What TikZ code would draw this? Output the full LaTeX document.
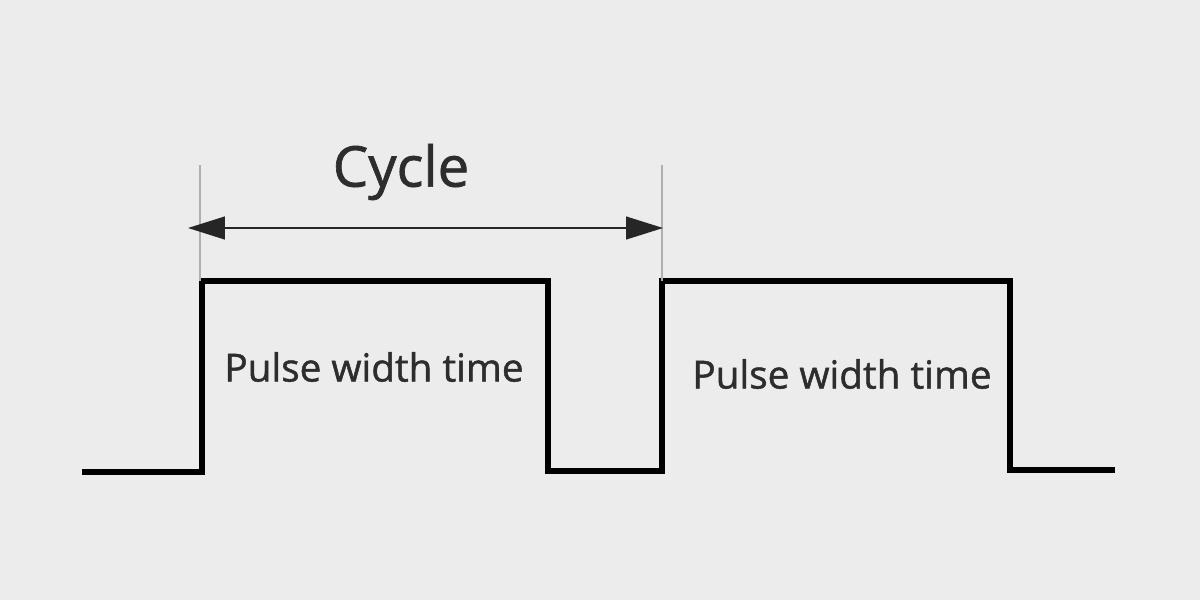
\documentclass[tikz,border=0pt]{standalone}
\usepackage{fontspec}
\setmainfont{Open Sans}
\newfontfamily\lblfont{Open Sans}[FakeBold=1.2]
\usepackage{xcolor}
\definecolor{fondo}{RGB}{236,236,236}
\definecolor{tinta}{RGB}{45,45,45}
\definecolor{guia}{RGB}{175,175,175}
\usetikzlibrary{arrows.meta, positioning, calc}

\begin{document}
\begin{tikzpicture}[x=0.01cm, y=-0.01cm,
  wave/.style={line width=1.7pt, color=black, line join=miter},
  guide/.style={line width=0.5pt, color=guia},
  arr/.style={{Triangle[length=10.5pt,width=6.5pt]}-{Triangle[length=10.5pt,width=6.5pt]},
              line width=0.45pt, color=black!85},
  lbl/.style={font=\lblfont\fontsize{11}{13}\selectfont, color=tinta}
]
  \fill[fondo] (0,0) rectangle (1200,600);
  \useasboundingbox (0,0) rectangle (1200,600);

  % waveform corners
  \coordinate (s0) at (82,472);
  \coordinate (r1) at (202,472);
  \coordinate (h1) at (202,281);
  \coordinate (f1) at (548,281);
  \coordinate (l1) at (548,471);
  \coordinate (r2) at (662,471);
  \coordinate (h2) at (662,281);
  \coordinate (f2) at (1010,281);
  \coordinate (l2) at (1010,470);
  \coordinate (e0) at (1115,470);

  \draw[wave] (s0) -- (r1) -- (h1) -- (f1) -- (l1) -- (r2) -- (h2) -- (f2) -- (l2) -- (e0);

  % cycle markers
  \coordinate (g1) at (200,165);
  \coordinate (g2) at (662,165);
  \draw[guide] (g1) -- (g1 |- h1);
  \draw[guide] (g2) -- (h2);

  \coordinate (a1) at (188,228);
  \coordinate (a2) at (663,228);
  \draw[arr] (a1) -- (a2);

  \node[lbl, font=\lblfont\fontsize{16}{19}\selectfont] (cyc) at (401,172) {Cycle};
  \node[lbl] (pw1) at (374,367) {Pulse width time};
  \node[lbl] (pw2) at (842,374) {Pulse width time};
\end{tikzpicture}
\end{document}
